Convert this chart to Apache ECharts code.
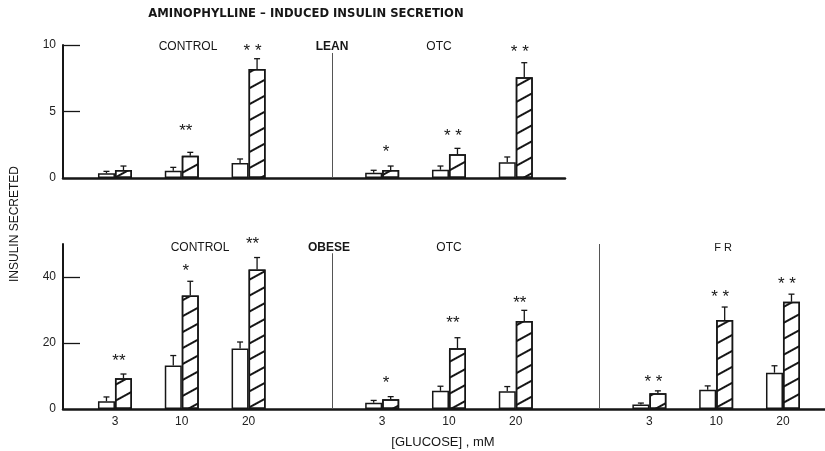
<!DOCTYPE html>
<html>
<head>
<meta charset="utf-8">
<script src="https://cdn.jsdelivr.net/npm/echarts@6/dist/echarts.min.js"></script>
<style>
  html, body { margin: 0; padding: 0; background: #fff; }
  #chart { width: 825px; height: 451px; }
</style>
</head>
<body>
<div id="chart"></div>
<script>
// Slot index along the x axis for every bar pair (gaps separate treatment groups)
const leanSlots  = [0, 1, 2, 4, 5, 6];
const obeseSlots = [0, 1, 2, 4, 5, 6, 8, 9, 10];
// Glucose concentration (mM) printed under each slot
const glucoseLabels = { 0: '3', 1: '10', 2: '20', 4: '3', 5: '10', 6: '20', 8: '3', 9: '10', 10: '20' };

// LEAN: CONTROL (3,10,20 mM) then OTC (3,10,20 mM)
const leanBasal     = [0.35, 0.55, 1.13, 0.40, 0.62, 1.18];
const leanBasalSem  = [0.15, 0.25, 0.30, 0.18, 0.28, 0.40];
const leanAmino     = [0.60, 1.68, 8.20, 0.60, 1.78, 7.57];
const leanAminoSem  = [0.30, 0.25, 0.77, 0.30, 0.45, 1.10];
const leanStars     = ['', '**', '* *', '*', '* *', '* *'];
const leanStarLevel = [0, 3.76, 9.77, 2.18, 3.38, 9.7];

// OBESE: CONTROL, OTC, FR (3,10,20 mM each)
const obeseBasal     = [2.35, 13.2, 18.3, 1.9, 5.5, 5.4, 1.4, 5.8, 11.0];
const obeseBasalSem  = [1.3, 3.0, 2.0, 0.7, 1.4, 1.4, 0.4, 1.2, 2.1];
const obeseAmino     = [9.35, 34.4, 42.3, 2.95, 18.4, 26.7, 4.8, 27.0, 32.5];
const obeseAminoSem  = [1.25, 4.3, 3.6, 0.8, 3.2, 3.2, 0.7, 3.9, 2.3];
const obeseStars     = ['**', '*', '**', '*', '**', '**', '* *', '* *', '* *'];
const obeseStarLevel = [15.5, 42.7, 50.7, 8.8, 26.9, 32.9, 9.1, 34.8, 38.8];

// Y axis tick values
const leanTicks  = [0, 5, 10];
const obeseTicks = [0, 20, 40];

const INK = '#161616';
const FONT = '"Liberation Sans", Arial, sans-serif';
const BAR_W = 17;

// Diagonal "/" hatching for the aminophylline bars
const hatch = {
  symbol: 'rect',
  symbolSize: 1,
  dashArrayX: [1, 0],
  dashArrayY: [1.8, 11.8],
  rotation: -0.5,
  color: INK
};

function barSeries(gridIndex, slots, values, hatched) {
  const s = {
    type: 'bar',
    xAxisIndex: gridIndex,
    yAxisIndex: gridIndex,
    barWidth: BAR_W,
    barGap: '0%',
    data: slots.map((s, i) => [s, values[i]]),
    itemStyle: { color: '#fff', borderColor: INK, borderWidth: 1.5 },
    z: 2
  };
  if (hatched) s.itemStyle.decal = hatch;
  return s;
}

function errorSeries(gridIndex, slots, values, sems, offset) {
  return {
    type: 'custom',
    xAxisIndex: gridIndex,
    yAxisIndex: gridIndex,
    clip: false,
    z: 3,
    data: slots.map((s, i) => [s, values[i], values[i] + sems[i]]),
    renderItem: function (params, api) {
      const base = api.coord([api.value(0), api.value(1)]);
      const top = api.coord([api.value(0), api.value(2)]);
      const cx = base[0] + offset;
      const st = { stroke: INK, lineWidth: 1.3 };
      return {
        type: 'group',
        children: [
          { type: 'line', shape: { x1: cx, y1: base[1], x2: cx, y2: top[1] }, style: st },
          { type: 'line', shape: { x1: cx - 3, y1: top[1], x2: cx + 3, y2: top[1] }, style: st }
        ]
      };
    }
  };
}

// Asterisks marking significance; also carries the thin group dividers
function starSeries(gridIndex, slots, stars, levels, divider) {
  return {
    type: 'custom',
    xAxisIndex: gridIndex,
    yAxisIndex: gridIndex,
    clip: false,
    z: 4,
    data: slots.map((s, i) => [s, levels[i]]),
    renderItem: function (params, api) {
      const p = api.coord([api.value(0), api.value(1)]);
      return {
        type: 'text',
        x: p[0] + 4,
        y: p[1] + 3,
        style: {
          text: stars[params.dataIndex],
          fill: INK,
          font: '17px ' + FONT,
          align: 'center',
          verticalAlign: 'middle'
        }
      };
    },
    markLine: {
      silent: true,
      symbol: 'none',
      label: { show: false },
      lineStyle: { color: '#555', width: 1, type: 'solid' },
      data: divider.map(d => [{ coord: [d[0], 0] }, { coord: [d[0], d[1]] }])
    }
  };
}

function yAxis(gridIndex, max, ticks) {
  return {
    type: 'value',
    gridIndex: gridIndex,
    min: 0,
    max: max,
    axisLine: { show: true, onZero: false, lineStyle: { color: INK, width: 2 } },
    axisTick: { show: true, inside: true, length: 17, customValues: ticks.slice(1), lineStyle: { color: INK, width: 1.3 } },
    axisLabel: { customValues: ticks, color: '#222', fontFamily: FONT, fontSize: 12, margin: 7 },
    splitLine: { show: false }
  };
}

function xAxis(gridIndex, max, withLabels) {
  return {
    type: 'value',
    gridIndex: gridIndex,
    min: -0.778,
    max: max,
    axisLine: { show: true, onZero: false, lineStyle: { color: INK, width: 2.5 } },
    axisTick: { show: false },
    axisLabel: withLabels ? {
      customValues: obeseSlots,
      formatter: v => glucoseLabels[v] || '',
      color: '#222', fontFamily: FONT, fontSize: 12, margin: 7
    } : { show: false },
    splitLine: { show: false }
  };
}

function label(text, x, y, font) {
  return {
    type: 'text',
    x: x, y: y,
    style: {
      text: text,
      fill: INK,
      font: font || ('12px ' + FONT),
      align: 'center',
      verticalAlign: 'middle'
    }
  };
}

const chart = echarts.init(document.getElementById('chart'), null, { renderer: 'canvas' });
chart.setOption({
  animation: false,
  backgroundColor: '#fff',
  grid: [
    { left: 63, top: 45, width: 502, height: 133 },
    { left: 63, top: 244, width: 762, height: 165 }
  ],
  xAxis: [xAxis(0, 6.737, false), xAxis(1, 10.629, true)],
  yAxis: [yAxis(0, 10, leanTicks), yAxis(1, 50, obeseTicks)],
  series: [
    barSeries(0, leanSlots, leanBasal, false),
    barSeries(0, leanSlots, leanAmino, true),
    errorSeries(0, leanSlots, leanBasal, leanBasalSem, -BAR_W / 2),
    errorSeries(0, leanSlots, leanAmino, leanAminoSem, BAR_W / 2),
    starSeries(0, leanSlots, leanStars, leanStarLevel, [[3.25, 9.4]]),
    barSeries(1, obeseSlots, obeseBasal, false),
    barSeries(1, obeseSlots, obeseAmino, true),
    errorSeries(1, obeseSlots, obeseBasal, obeseBasalSem, -BAR_W / 2),
    errorSeries(1, obeseSlots, obeseAmino, obeseAminoSem, BAR_W / 2),
    starSeries(1, obeseSlots, obeseStars, obeseStarLevel, [[3.25, 47.2], [7.25, 50]])
  ],
  graphic: [
    label('AMINOPHYLLINE \u2013 INDUCED INSULIN SECRETION', 306, 14, 'bold 11.6px "DejaVu Sans", sans-serif'),
    label('CONTROL', 188, 47),
    label('LEAN', 332, 47, 'bold 12px ' + FONT),
    label('OTC', 439, 47),
    label('CONTROL', 200, 248),
    label('OBESE', 329, 248, 'bold 12px ' + FONT),
    label('OTC', 449, 248),
    label('F R', 723, 248, '11px ' + FONT),
    label('[GLUCOSE] , mM', 443, 442, '13px ' + FONT),
    Object.assign(label('INSULIN SECRETED', 15, 224), { rotation: Math.PI / 2 })
  ]
});
</script>
</body>
</html>
